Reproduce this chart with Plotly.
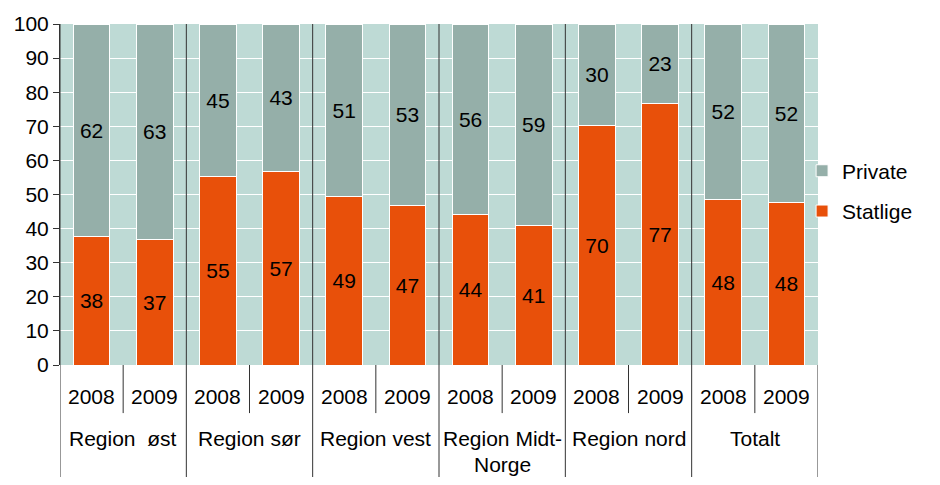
import plotly.graph_objects as go

# Data
regions = ["Region  øst", "Region sør", "Region vest", "Region Midt-<br>Norge", "Region nord", "Totalt"]
years = ["2008", "2009"]
statlige = [37.6, 36.9, 55.4, 56.6, 49.4, 46.8, 44.0, 41.0, 70.2, 76.6, 48.4, 47.6]
private = [round(100 - v, 1) for v in statlige]

ORANGE = "#E8500A"
TEAL = "#95AFA9"
BG = "#BEDAD5"
LINE = "#333333"
FONT = "Liberation Sans, Arial, sans-serif"
FS = 21

x = list(range(len(statlige)))

fig = go.Figure()
fig.add_trace(go.Bar(x=x, y=statlige, name="Statlige", marker=dict(color=ORANGE, line=dict(color="white", width=1)),
                     width=0.58, text=statlige, texttemplate="%{y:.0f}", textposition="inside",
                     insidetextanchor="middle", textfont=dict(color="black", size=FS),
                     legendgroup="s", legendrank=2))
fig.add_trace(go.Bar(x=x, y=private, name="Private", marker=dict(color=TEAL, line=dict(color="white", width=1)),
                     width=0.58, text=private, texttemplate="%{y:.0f}", textposition="inside",
                     insidetextanchor="middle", textfont=dict(color="black", size=FS),
                     legendgroup="p", legendrank=1))

# lines and labels for the two-level category axis
shapes = []
annotations = []
bottom = -0.38
for g, region in enumerate(regions):
    left = 2 * g - 0.5
    # group separator, through the plot and down through the labels
    shapes.append(dict(type="line", xref="x", yref="paper", x0=left, x1=left, y0=bottom, y1=1,
                       line=dict(color=LINE, width=1)))
    # year separator
    shapes.append(dict(type="line", xref="x", yref="paper", x0=left + 1, x1=left + 1, y0=-0.141, y1=0,
                       line=dict(color=LINE, width=1)))
    for k, yr in enumerate(years):
        annotations.append(dict(x=2 * g + k, y=-0.091, xref="x", yref="paper", text=yr, showarrow=False,
                                font=dict(size=FS, color="black"), yanchor="middle"))
    # the wrapped label gets its second line pinned to the bottom edge so it is not cut off
    lines = region.split("<br>")
    annotations.append(dict(x=2 * g + 0.5, y=-0.18, xref="x", yref="paper", text=lines[0], showarrow=False,
                            font=dict(size=FS, color="black"), yanchor="top", borderpad=0))
    if len(lines) > 1:
        annotations.append(dict(x=2 * g + 0.5, y=-0.328, xref="x", yref="paper", text=lines[1],
                                showarrow=False, font=dict(size=FS, color="black"), yanchor="bottom",
                                borderpad=0))
shapes.append(dict(type="line", xref="x", yref="paper", x0=len(x) - 0.5, x1=len(x) - 0.5, y0=bottom, y1=0,
                   line=dict(color=LINE, width=1)))

# page body has an 8px margin, so the figure is 16px smaller than the window
fig.update_layout(
    barmode="stack",
    width=924, height=469,
    margin=dict(l=52, r=114, t=16, b=112, autoexpand=False),
    paper_bgcolor="white",
    plot_bgcolor=BG,
    font=dict(family=FONT, size=FS, color="black"),
    shapes=shapes,
    annotations=annotations,
    legend=dict(x=0.979, y=0.51, xanchor="left", yanchor="middle", traceorder="grouped",
                tracegroupgap=10, font=dict(size=FS), bgcolor="rgba(0,0,0,0)"),
    uniformtext=dict(minsize=FS, mode="show"),
)
fig.update_xaxes(range=[-0.5, len(x) - 0.5], showticklabels=False, showgrid=False, zeroline=False,
                 showline=False, ticks="", automargin=False)
fig.update_yaxes(range=[0, 100], dtick=10, showgrid=True, gridcolor="white", gridwidth=1, zeroline=False,
                 showline=True, linecolor=LINE, ticks="outside", ticklen=6, tickcolor=LINE,
                 tickfont=dict(size=FS), automargin=False)

fig.write_html("out.html")
